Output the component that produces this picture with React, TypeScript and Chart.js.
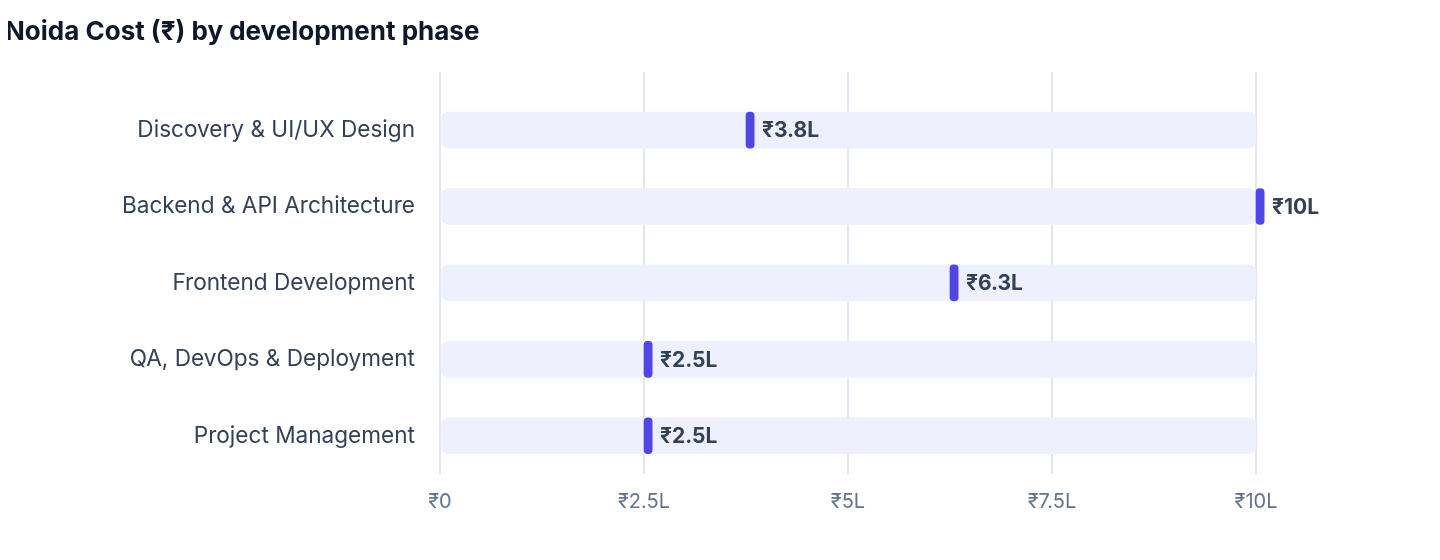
import { useEffect, useRef } from 'react';
import { Chart, registerables } from 'chart.js';

Chart.register(...registerables);

const title = 'Noida Cost (₹) by development phase';
const phases = [
  'Discovery & UI/UX Design',
  'Backend & API Architecture',
  'Frontend Development',
  'QA, DevOps & Deployment',
  'Project Management',
];
// cost in lakh rupees
const costs = [3.75, 10, 6.25, 2.5, 2.5];
const trackMax = 10;
const xTicks = [0, 2.5, 5, 7.5, 10];
const markerWidth = 0.1;

const FONT = 'Inter, "Noto Sans", Arial, sans-serif';

const fmtLakh = (v: number) => (v === 0 ? '₹0' : `₹${Math.round(v * 10) / 10}L`);

const valueLabels = {
  id: 'valueLabels',
  afterDatasetsDraw(chart: any) {
    const { ctx, scales } = chart;
    ctx.save();
    ctx.font = `bold 21px ${FONT}`;
    ctx.fillStyle = '#334155';
    ctx.textAlign = 'left';
    ctx.textBaseline = 'middle';
    costs.forEach((v, i) => {
      const x = scales.x.getPixelForValue(v) + 16;
      const y = scales.y.getPixelForValue(i);
      ctx.fillText(fmtLakh(v), x, y + 1);
    });
    ctx.restore();
  },
};

export default function App() {
  const chartRef = useRef<HTMLCanvasElement>(null);
  const chartInstance = useRef<Chart | null>(null);

  useEffect(() => {
    if (!chartRef.current) return;
    if (chartInstance.current) chartInstance.current.destroy();
    const ctx = chartRef.current.getContext('2d');
    if (!ctx) return;

    chartInstance.current = new Chart(ctx, {
      type: 'bar',
      data: {
        datasets: [
          {
            label: 'Track',
            data: phases.map((_, i) => ({ y: i, x: [0, trackMax] })),
            backgroundColor: '#eef1fd',
            borderRadius: 8,
            borderSkipped: false,
            barThickness: 36,
            grouped: false,
            order: 2,
          },
          {
            label: 'Cost',
            data: costs.map((v, i) => ({ y: i, x: [v, v + markerWidth] })),
            backgroundColor: '#4f46e5',
            borderRadius: 4,
            borderSkipped: false,
            barThickness: 36,
            grouped: false,
            clip: false,
            order: 1,
          },
        ] as any,
      },
      options: {
        indexAxis: 'y',
        animation: false,
        responsive: false,
        devicePixelRatio: 1,
        layout: { padding: { left: 0, right: 184, top: 72, bottom: 30 } },
        scales: {
          x: {
            type: 'linear',
            min: 0,
            max: trackMax,
            afterBuildTicks: (s: any) => {
              s.ticks = xTicks.map(v => ({ value: v }));
            },
            grid: { color: '#e2e8f0', lineWidth: 2, drawTicks: false },
            border: { display: false },
            ticks: {
              padding: 16,
              color: '#64748b',
              font: { family: FONT, size: 20 },
              callback: (v: any) => fmtLakh(Number(v)),
            },
          },
          y: {
            type: 'linear',
            reverse: true,
            offset: false,
            grace: 0,
            min: -0.76,
            max: phases.length - 0.5,
            afterBuildTicks: (s: any) => {
              s.ticks = phases.map((_, i) => ({ value: i }));
            },
            afterFit: (s: any) => {
              s.width = 440;
            },
            grid: { display: false, drawTicks: false },
            border: { display: false },
            ticks: {
              padding: 25,
              color: '#334155',
              font: { family: FONT, size: 22.6 },
              callback: (v: any) => phases[Number(v)] ?? '',
            },
          },
        },
        plugins: {
          legend: { display: false },
          tooltip: { enabled: false },
          title: { display: false },
        },
      } as any,
      plugins: [valueLabels],
    });

    return () => {
      if (chartInstance.current) {
        chartInstance.current.destroy();
        chartInstance.current = null;
      }
    };
  }, []);

  return (
    <div style={{ margin: -8, width: 1440, height: 560, background: '#fff', position: 'relative' }}>
      <div
        style={{
          position: 'absolute',
          left: 5,
          top: 0,
          height: 62,
          lineHeight: '62px',
          fontFamily: FONT,
          fontSize: 26,
          fontWeight: 700,
          color: '#0f172a',
          whiteSpace: 'nowrap',
        }}
      >
        {title}
      </div>
      <canvas ref={chartRef} width={1440} height={560} style={{ display: 'block' }} />
    </div>
  );
}
